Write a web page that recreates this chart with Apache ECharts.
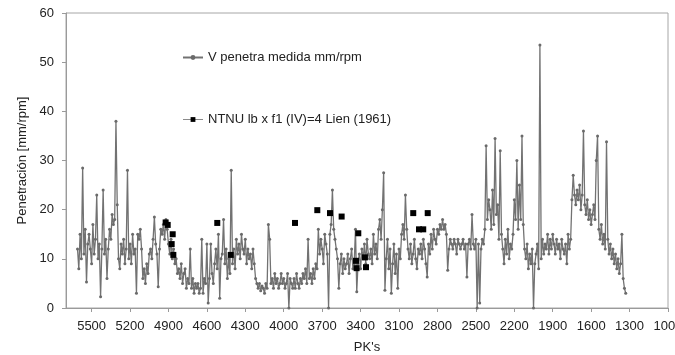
<!DOCTYPE html>
<html>
<head>
<meta charset="utf-8">
<script src="https://cdn.jsdelivr.net/npm/echarts@6/dist/echarts.min.js"></script>
<style>
html,body{margin:0;padding:0;background:#fff;}
#chart{width:675px;height:355px;}
</style>
</head>
<body>
<div id="chart"></div>
<script>
// PK of the first measured point and spacing between measured points
const pkStart = 5610;
const pkStep = 10;
// V penetra medida mm/rpm (one value per PK, from 5610 down to 1330)
const penetra = [
 12, 8, 15, 10, 28.5, 11, 16, 5.3, 13, 15,
 12, 9, 17, 11, 14, 23, 10, 13, 2.3, 12,
 24, 11, 14, 6, 12, 16, 14, 19, 17, 18,
 38, 21, 10, 8, 13, 11, 14, 9, 12, 28,
 10, 13, 9, 15, 11, 12, 3, 15, 14, 16,
 12, 6, 8, 5, 9, 7, 11, 12, 10, 14,
 18.5, 13, 11, 4.3, 12, 16, 15, 17, 14, 18,
 16, 13, 11, 14, 10, 12, 9, 10, 7, 8,
 6, 9, 5, 7, 8, 4, 6, 5, 12, 4,
 6, 3, 5, 4, 5, 3, 4, 14, 3, 6,
 5, 13, 1, 6, 13, 7, 5, 9, 12, 8,
 15, 2, 10, 11, 18, 9, 12, 6, 10, 7,
 28, 9, 12, 8, 14, 11, 13, 10, 15, 12,
 11, 14, 9, 12, 10, 11, 8, 12, 9, 6,
 5, 4, 5, 3.5, 4.5, 4, 3, 5, 4, 17,
 14, 5, 6, 4, 7, 5, 6, 4, 5, 7,
 5, 6, 4, 5, 7, 0, 6, 5, 4, 6,
 4, 7, 5, 4, 6, 5, 7, 6, 8, 5,
 14, 6, 7, 5, 8, 6, 9, 8, 16, 11,
 14, 12, 9, 15, 13, 11, 0, 15, 17, 24,
 16, 14, 12, 10, 4, 9, 11, 7, 10, 8,
 9, 11, 7, 10, 12, 8, 9, 16, 3.3, 9,
 11, 8, 12, 10, 13, 9, 14, 11, 10, 12,
 9, 15, 11, 13, 10, 16, 18, 14, 20, 27.5,
 3.6, 10, 14, 8, 12, 3, 9, 13, 7, 11,
 4, 12, 10, 15, 17, 14, 23, 16, 12, 10,
 13, 9, 11, 14, 10, 8, 12, 11, 13, 10,
 14, 12, 9, 6.3, 13, 11, 15, 12, 16, 14,
 13, 16, 15, 17, 16, 18, 16, 17, 15, 7.7,
 12, 14, 13, 12, 14, 13, 11, 14, 13, 12,
 13, 14, 12, 13, 6.3, 13, 14, 12, 19, 13,
 12, 14, 0, 13, 1, 12, 14, 13, 16, 33,
 18, 22, 20, 16, 24, 17, 34.5, 19, 21, 14,
 32, 15, 12, 9, 14, 11, 16, 10, 13, 12,
 15, 22, 18, 30, 16, 25, 18, 35, 17, 12,
 10, 13, 8, 11, 9, 12, 0, 9, 11, 13,
 8, 53.5, 10, 14, 11, 13, 12, 15, 11, 14,
 12, 15, 13, 11, 14, 12, 13, 10, 14, 12,
 11, 13, 9, 15, 12, 14, 22, 27, 23, 21,
 24, 22, 25, 20, 23, 36, 21, 19, 22, 18,
 20, 17, 19, 21, 18, 30, 35, 16, 14, 17,
 13, 15, 12, 33.8, 14, 11, 13, 10, 12, 9,
 11, 8, 10, 7, 9, 15, 6, 4, 3
];
// NTNU lb x f1 (IV)=4 Lien (1961)
const ntnuPK  = [4922, 4906, 4867, 4875, 4862, 4519, 4414, 3912, 3738, 3639, 3548, 3418, 3436, 3431, 3366, 3358, 2989, 2944, 2911, 2876];
const ntnuVal = [17.4, 16.9, 15.0, 13.0, 10.8, 17.3, 10.8, 17.3, 19.9, 19.3, 18.6, 15.2, 9.6, 8.1, 10.3, 8.3, 19.3, 16.0, 16.0, 19.3];
// axis ticks
const xTicks = [5500, 5200, 4900, 4600, 4300, 4000, 3700, 3400, 3100, 2800, 2500, 2200, 1900, 1600, 1300, 1000];
const yTicks = [0, 10, 20, 30, 40, 50, 60];

const name1 = 'V penetra medida mm/rpm';
const name2 = 'NTNU lb x f1 (IV)=4 Lien (1961)';

const mainData = penetra.map((v, i) => [pkStart - i * pkStep, v]);
const ntnuData = ntnuPK.map((p, i) => [p, ntnuVal[i]]);

const font = 'Liberation Sans, Arial, sans-serif';
const chart = echarts.init(document.getElementById('chart'), null, {renderer: 'canvas'});
chart.setOption({
  animation: false,
  backgroundColor: '#ffffff',
  textStyle: {fontFamily: font},
  grid: {left: 66, right: 7, top: 13, bottom: 47, show: true, borderColor: '#a6a6a6', borderWidth: 1,
         containLabel: false, outerBoundsMode: 'none'},
  legend: {
    orient: 'vertical', left: 177, top: 46,
    itemWidth: 20, itemHeight: 6, itemGap: 49,
    textStyle: {fontFamily: font, fontSize: 13, color: '#222'},
    data: [
      {name: name1},
      {name: name2, lineStyle: {opacity: 1, color: '#8a8a8a', width: 1}}
    ]
  },
  xAxis: {
    type: 'value', min: 1000, max: 5700, inverse: true,
    name: "PK's", nameLocation: 'middle', nameGap: 33,
    nameTextStyle: {fontFamily: font, fontSize: 13, color: '#222'},
    axisLine: {show: true, lineStyle: {color: '#9a9a9a', width: 1}},
    axisTick: {show: true, length: 4, lineStyle: {color: '#9a9a9a'}, customValues: xTicks},
    axisLabel: {customValues: xTicks, formatter: v => String(v), fontFamily: font, fontSize: 13, color: '#222', margin: 12, hideOverlap: false},
    splitLine: {show: false}
  },
  yAxis: {
    type: 'value', min: 0, max: 60, interval: 10,
    name: 'Penetración [mm/rpm]', nameLocation: 'middle', nameGap: 35,
    nameTextStyle: {fontFamily: font, fontSize: 13, color: '#222'},
    axisLine: {show: true, lineStyle: {color: '#9a9a9a', width: 1}},
    axisTick: {show: true, length: 4, lineStyle: {color: '#9a9a9a'}, customValues: yTicks},
    axisLabel: {customValues: yTicks, fontFamily: font, fontSize: 13, color: '#222', margin: 12},
    splitLine: {show: false}
  },
  series: [
    {
      name: name1, type: 'line', data: mainData,
      showSymbol: true, symbol: 'circle', symbolSize: 3,
      lineStyle: {color: '#727272', width: 1.3},
      itemStyle: {color: '#6a6a6a'},
      z: 2
    },
    {
      name: name2, type: 'line', data: ntnuData,
      symbol: 'rect', symbolSize: 6,
      lineStyle: {opacity: 0},
      itemStyle: {color: '#000'},
      z: 3
    }
  ]
});
</script>
</body>
</html>
